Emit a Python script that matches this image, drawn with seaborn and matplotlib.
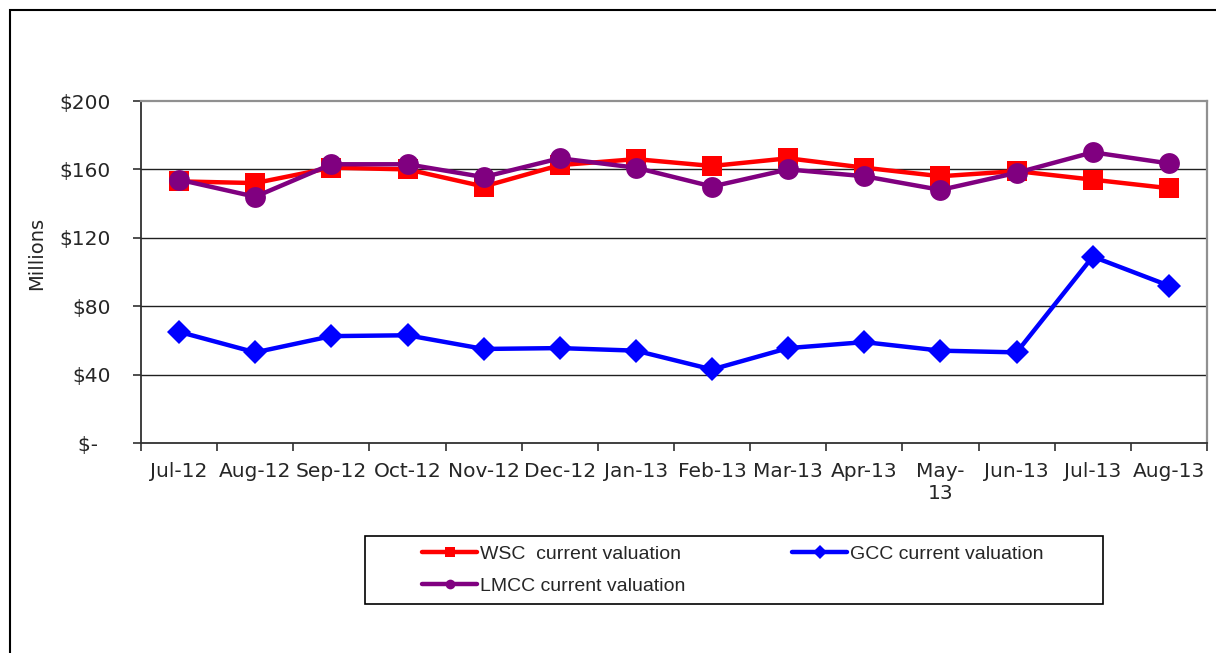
import numpy as np
import pandas as pd
import matplotlib
matplotlib.use("Agg")
import matplotlib.pyplot as plt
import seaborn as sns
from matplotlib.lines import Line2D
from matplotlib.patches import Rectangle
from matplotlib.ticker import FixedLocator, FixedFormatter

# Data (millions of $)
months = ["Jul-12", "Aug-12", "Sep-12", "Oct-12", "Nov-12", "Dec-12", "Jan-13",
          "Feb-13", "Mar-13", "Apr-13", "May-\n13", "Jun-13", "Jul-13", "Aug-13"]
wsc = [153, 152, 161, 160, 150, 162.5, 166, 162, 166.5, 161, 156, 159, 154, 149]
gcc = [65, 53, 62.5, 63, 55, 55.5, 54, 43, 55.5, 59, 54, 53, 109, 92]
lmcc = [154, 144, 163, 163, 155.5, 166.5, 161, 150, 160, 156, 148, 158, 170, 163.5]
y_ticks = [0, 40, 80, 120, 160, 200]
y_labels = ["$-  ", "$40", "$80", "$120", "$160", "$200"]

sns.set_style("white")
plt.rcParams['font.family'] = ['DejaVu Sans']

W, H = 1216, 653
fig = plt.figure(figsize=(W / 100, H / 100), dpi=100)
ax = fig.add_axes([141 / W, 1 - 443 / H, (1207 - 141) / W, (443 - 101) / H])

pos = np.arange(len(months))
series = [
    ("WSC  current valuation", wsc, "#FF0000", "s", 14),
    ("GCC current valuation", gcc, "#0000FF", "D", 12),
    ("LMCC current valuation", lmcc, "#800080", "o", 15),
]
for name, vals, col, mk, ms in series:
    df = pd.DataFrame({"x": pos, "y": vals})
    sns.lineplot(data=df, x="x", y="y", color=col, marker=mk, markersize=ms,
                 markeredgewidth=0, linewidth=3.2, ax=ax, legend=False)

ax.set_xlim(-0.5, len(months) - 0.5)
ax.set_ylim(0, 200)
ax.set_xlabel("")
ax.set_ylabel("")

# gridlines
for v in y_ticks[1:-1]:
    ax.axhline(v, color="#202020", linewidth=1.0, zorder=0)

# ticks: major at category boundaries, labels on minor ticks at centres
ax.xaxis.set_major_locator(FixedLocator(np.arange(-0.5, len(months), 1.0)))
ax.xaxis.set_major_formatter(FixedFormatter([""] * (len(months) + 1)))
ax.xaxis.set_minor_locator(FixedLocator(pos))
ax.xaxis.set_minor_formatter(FixedFormatter(months))
ax.tick_params(axis="x", which="major", direction="out", length=6, width=1.2,
               color="#303030", bottom=True)
ax.tick_params(axis="x", which="minor", length=0, pad=14, labelsize=14.5)
ax.yaxis.set_major_locator(FixedLocator(y_ticks))
ax.yaxis.set_major_formatter(FixedFormatter(y_labels))
ax.tick_params(axis="y", direction="out", length=6, width=1.2, color="#303030",
               left=True, pad=16, labelsize=14.5)

for side in ["left", "bottom"]:
    ax.spines[side].set_color("#303030")
    ax.spines[side].set_linewidth(1.3)
for side in ["top", "right"]:
    ax.spines[side].set_color("#909090")
    ax.spines[side].set_linewidth(1.6)

fig.text(37 / W, 1 - 253 / H, "Millions", rotation=90, ha="center",
         va="center", fontsize=14)

# legend: frameless, with its own box drawn behind it
handles = [Line2D([], [], color=c, marker=m, markersize=7, markeredgewidth=0,
                  linewidth=3.2, label=n) for n, v, c, m, ms in series]
order = [handles[0], handles[2], handles[1]]
leg = fig.legend(handles=order, ncol=2, loc="upper left",
                 bbox_to_anchor=(422 / W, 1 - 545 / H),
                 frameon=False, prop={"family": "Liberation Sans", "size": 14},
                 handlelength=2.83, handletextpad=0.15, borderpad=0,
                 labelspacing=0.75, columnspacing=5.5, borderaxespad=0)
fig.patches.append(Rectangle((365 / W, 1 - 604 / H), (1103 - 365) / W, 68 / H,
                             transform=fig.transFigure, fill=False,
                             edgecolor="black", linewidth=1.2))

# outer chart frame
fig.patches.append(Rectangle((10 / W, -0.1), 1.2, 1 - 10 / H + 0.1,
                             transform=fig.transFigure, fill=False,
                             edgecolor="black", linewidth=1.5))

fig.savefig("out.png", dpi=100)
